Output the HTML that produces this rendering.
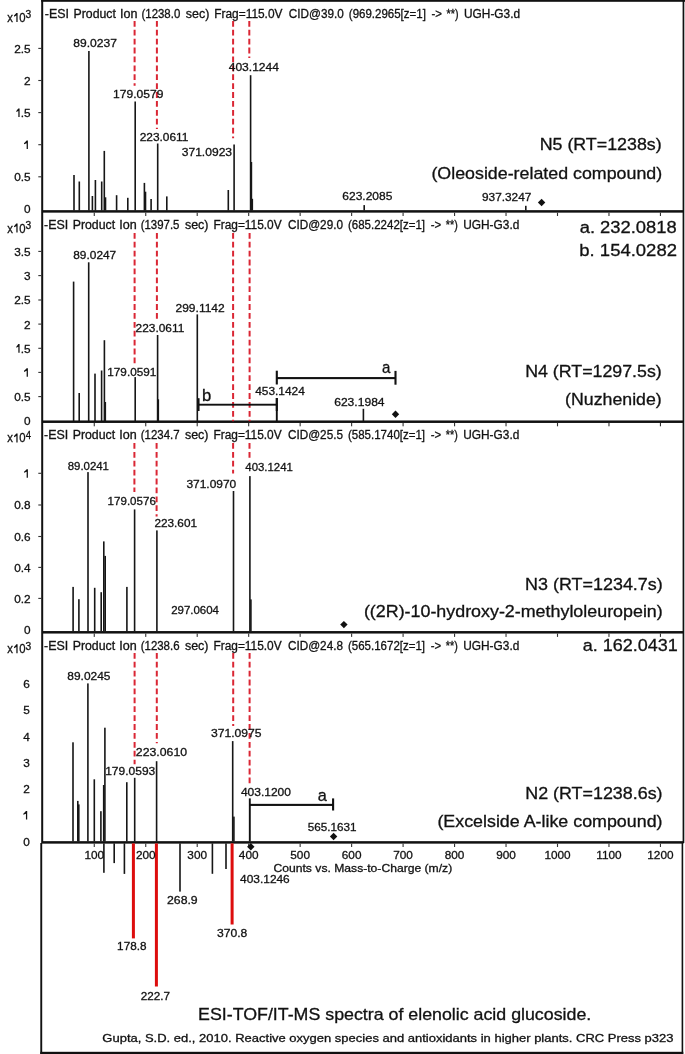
<!DOCTYPE html>
<html><head><meta charset="utf-8"><title>ESI-TOF/IT-MS spectra</title>
<style>
html,body{margin:0;padding:0;background:#fff;}
body{width:685px;height:1054px;overflow:hidden;}
svg{display:block;will-change:transform;}
text{font-family:"Liberation Sans", sans-serif;stroke:#111;stroke-width:0.3px;paint-order:stroke;}
</style></head>
<body>
<svg width="685" height="1054" viewBox="0 0 685 1054">
<rect x="0" y="0" width="685" height="1054" fill="#fff"/>
<rect x="41.20" y="0.00" width="2.00" height="843.00" fill="#111"/>
<rect x="40.30" y="843.00" width="1.90" height="211.00" fill="#111"/>
<rect x="41.20" y="0.00" width="643.80" height="1.80" fill="#111"/>
<rect x="682.60" y="0.00" width="1.70" height="843.00" fill="#111"/>
<rect x="681.60" y="843.00" width="1.60" height="211.00" fill="#111"/>
<rect x="40.30" y="1051.80" width="643.00" height="2.20" fill="#111"/>
<rect x="42.00" y="210.15" width="641.50" height="2.50" fill="#111"/>
<rect x="93.72" y="212.60" width="1.10" height="3.40" fill="#333"/>
<rect x="145.19" y="212.60" width="1.10" height="3.40" fill="#333"/>
<rect x="196.66" y="212.60" width="1.10" height="3.40" fill="#333"/>
<rect x="248.13" y="212.60" width="1.10" height="3.40" fill="#333"/>
<rect x="299.60" y="212.60" width="1.10" height="3.40" fill="#333"/>
<rect x="351.07" y="212.60" width="1.10" height="3.40" fill="#333"/>
<rect x="402.54" y="212.60" width="1.10" height="3.40" fill="#333"/>
<rect x="454.01" y="212.60" width="1.10" height="3.40" fill="#333"/>
<rect x="505.48" y="212.60" width="1.10" height="3.40" fill="#333"/>
<rect x="556.95" y="212.60" width="1.10" height="3.40" fill="#333"/>
<rect x="608.42" y="212.60" width="1.10" height="3.40" fill="#333"/>
<rect x="659.89" y="212.60" width="1.10" height="3.40" fill="#333"/>
<text x="44.84" y="17.70" font-size="12" text-anchor="start" fill="#111" textLength="24.14" lengthAdjust="spacingAndGlyphs">-ESI</text>
<text x="73.51" y="17.70" font-size="12" text-anchor="start" fill="#111" textLength="42.46" lengthAdjust="spacingAndGlyphs">Product</text>
<text x="120.07" y="17.70" font-size="12" text-anchor="start" fill="#111" textLength="17.45" lengthAdjust="spacingAndGlyphs">Ion</text>
<text x="141.51" y="17.70" font-size="12" text-anchor="start" fill="#111" textLength="38.76" lengthAdjust="spacingAndGlyphs">(1238.0</text>
<text x="185.73" y="17.70" font-size="12" text-anchor="start" fill="#111" textLength="23.58" lengthAdjust="spacingAndGlyphs">sec)</text>
<text x="214.25" y="17.70" font-size="12" text-anchor="start" fill="#111" textLength="68.22" lengthAdjust="spacingAndGlyphs">Frag=115.0V</text>
<text x="288.81" y="17.70" font-size="12" text-anchor="start" fill="#111" textLength="54.94" lengthAdjust="spacingAndGlyphs">CID@39.0</text>
<text x="348.81" y="17.70" font-size="12" text-anchor="start" fill="#111" textLength="77.05" lengthAdjust="spacingAndGlyphs">(969.2965[z=1]</text>
<text x="431.49" y="17.70" font-size="12" text-anchor="start" fill="#111" textLength="10.45" lengthAdjust="spacingAndGlyphs">-&gt;</text>
<text x="446.58" y="17.70" font-size="12" text-anchor="start" fill="#111" textLength="11.98" lengthAdjust="spacingAndGlyphs">**)</text>
<text x="464.01" y="17.70" font-size="12" text-anchor="start" fill="#111" textLength="56.10" lengthAdjust="spacingAndGlyphs">UGH-G3.d</text>
<text x="7.13" y="21.90" font-size="12.8" text-anchor="start" fill="#111" textLength="5.68" lengthAdjust="spacingAndGlyphs">x</text>
<path d="M16.35 12.90 L17.60 12.90 L17.60 21.90 L16.35 21.90 L16.35 15.60 L14.00 16.77 L14.00 15.60 L15.45 13.98Z" fill="#111"/>
<text x="19.15" y="21.90" font-size="12.8" text-anchor="start" fill="#111" textLength="6.32" lengthAdjust="spacingAndGlyphs">0</text>
<text x="25.59" y="18.30" font-size="10.2" text-anchor="start" fill="#111" textLength="5.68" lengthAdjust="spacingAndGlyphs">3</text>
<rect x="42.00" y="420.45" width="641.50" height="2.50" fill="#111"/>
<rect x="93.72" y="422.90" width="1.10" height="3.40" fill="#333"/>
<rect x="145.19" y="422.90" width="1.10" height="3.40" fill="#333"/>
<rect x="196.66" y="422.90" width="1.10" height="3.40" fill="#333"/>
<rect x="248.13" y="422.90" width="1.10" height="3.40" fill="#333"/>
<rect x="299.60" y="422.90" width="1.10" height="3.40" fill="#333"/>
<rect x="351.07" y="422.90" width="1.10" height="3.40" fill="#333"/>
<rect x="402.54" y="422.90" width="1.10" height="3.40" fill="#333"/>
<rect x="454.01" y="422.90" width="1.10" height="3.40" fill="#333"/>
<rect x="505.48" y="422.90" width="1.10" height="3.40" fill="#333"/>
<rect x="556.95" y="422.90" width="1.10" height="3.40" fill="#333"/>
<rect x="608.42" y="422.90" width="1.10" height="3.40" fill="#333"/>
<rect x="659.89" y="422.90" width="1.10" height="3.40" fill="#333"/>
<text x="44.04" y="229.20" font-size="12" text-anchor="start" fill="#111" textLength="24.14" lengthAdjust="spacingAndGlyphs">-ESI</text>
<text x="72.71" y="229.20" font-size="12" text-anchor="start" fill="#111" textLength="42.46" lengthAdjust="spacingAndGlyphs">Product</text>
<text x="119.27" y="229.20" font-size="12" text-anchor="start" fill="#111" textLength="17.45" lengthAdjust="spacingAndGlyphs">Ion</text>
<text x="140.71" y="229.20" font-size="12" text-anchor="start" fill="#111" textLength="38.76" lengthAdjust="spacingAndGlyphs">(1397.5</text>
<text x="184.93" y="229.20" font-size="12" text-anchor="start" fill="#111" textLength="23.58" lengthAdjust="spacingAndGlyphs">sec)</text>
<text x="213.45" y="229.20" font-size="12" text-anchor="start" fill="#111" textLength="68.22" lengthAdjust="spacingAndGlyphs">Frag=115.0V</text>
<text x="288.01" y="229.20" font-size="12" text-anchor="start" fill="#111" textLength="54.94" lengthAdjust="spacingAndGlyphs">CID@29.0</text>
<text x="348.01" y="229.20" font-size="12" text-anchor="start" fill="#111" textLength="77.05" lengthAdjust="spacingAndGlyphs">(685.2242[z=1]</text>
<text x="430.69" y="229.20" font-size="12" text-anchor="start" fill="#111" textLength="10.45" lengthAdjust="spacingAndGlyphs">-&gt;</text>
<text x="445.78" y="229.20" font-size="12" text-anchor="start" fill="#111" textLength="11.98" lengthAdjust="spacingAndGlyphs">**)</text>
<text x="463.21" y="229.20" font-size="12" text-anchor="start" fill="#111" textLength="56.10" lengthAdjust="spacingAndGlyphs">UGH-G3.d</text>
<text x="7.13" y="232.50" font-size="12.8" text-anchor="start" fill="#111" textLength="5.68" lengthAdjust="spacingAndGlyphs">x</text>
<path d="M16.35 223.50 L17.60 223.50 L17.60 232.50 L16.35 232.50 L16.35 226.20 L14.00 227.37 L14.00 226.20 L15.45 224.58Z" fill="#111"/>
<text x="19.15" y="232.50" font-size="12.8" text-anchor="start" fill="#111" textLength="6.32" lengthAdjust="spacingAndGlyphs">0</text>
<text x="25.59" y="228.90" font-size="10.2" text-anchor="start" fill="#111" textLength="5.68" lengthAdjust="spacingAndGlyphs">3</text>
<rect x="42.00" y="631.05" width="641.50" height="2.50" fill="#111"/>
<rect x="93.72" y="633.50" width="1.10" height="3.40" fill="#333"/>
<rect x="145.19" y="633.50" width="1.10" height="3.40" fill="#333"/>
<rect x="196.66" y="633.50" width="1.10" height="3.40" fill="#333"/>
<rect x="248.13" y="633.50" width="1.10" height="3.40" fill="#333"/>
<rect x="299.60" y="633.50" width="1.10" height="3.40" fill="#333"/>
<rect x="351.07" y="633.50" width="1.10" height="3.40" fill="#333"/>
<rect x="402.54" y="633.50" width="1.10" height="3.40" fill="#333"/>
<rect x="454.01" y="633.50" width="1.10" height="3.40" fill="#333"/>
<rect x="505.48" y="633.50" width="1.10" height="3.40" fill="#333"/>
<rect x="556.95" y="633.50" width="1.10" height="3.40" fill="#333"/>
<rect x="608.42" y="633.50" width="1.10" height="3.40" fill="#333"/>
<rect x="659.89" y="633.50" width="1.10" height="3.40" fill="#333"/>
<text x="44.04" y="438.70" font-size="12" text-anchor="start" fill="#111" textLength="24.14" lengthAdjust="spacingAndGlyphs">-ESI</text>
<text x="72.71" y="438.70" font-size="12" text-anchor="start" fill="#111" textLength="42.46" lengthAdjust="spacingAndGlyphs">Product</text>
<text x="119.27" y="438.70" font-size="12" text-anchor="start" fill="#111" textLength="17.45" lengthAdjust="spacingAndGlyphs">Ion</text>
<text x="140.71" y="438.70" font-size="12" text-anchor="start" fill="#111" textLength="38.88" lengthAdjust="spacingAndGlyphs">(1234.7</text>
<text x="184.93" y="438.70" font-size="12" text-anchor="start" fill="#111" textLength="23.58" lengthAdjust="spacingAndGlyphs">sec)</text>
<text x="213.45" y="438.70" font-size="12" text-anchor="start" fill="#111" textLength="68.22" lengthAdjust="spacingAndGlyphs">Frag=115.0V</text>
<text x="288.01" y="438.70" font-size="12" text-anchor="start" fill="#111" textLength="54.94" lengthAdjust="spacingAndGlyphs">CID@25.5</text>
<text x="348.01" y="438.70" font-size="12" text-anchor="start" fill="#111" textLength="77.05" lengthAdjust="spacingAndGlyphs">(585.1740[z=1]</text>
<text x="430.69" y="438.70" font-size="12" text-anchor="start" fill="#111" textLength="10.45" lengthAdjust="spacingAndGlyphs">-&gt;</text>
<text x="445.78" y="438.70" font-size="12" text-anchor="start" fill="#111" textLength="11.98" lengthAdjust="spacingAndGlyphs">**)</text>
<text x="463.21" y="438.70" font-size="12" text-anchor="start" fill="#111" textLength="56.10" lengthAdjust="spacingAndGlyphs">UGH-G3.d</text>
<text x="7.13" y="442.40" font-size="12.8" text-anchor="start" fill="#111" textLength="5.68" lengthAdjust="spacingAndGlyphs">x</text>
<path d="M16.35 433.40 L17.60 433.40 L17.60 442.40 L16.35 442.40 L16.35 436.10 L14.00 437.27 L14.00 436.10 L15.45 434.48Z" fill="#111"/>
<text x="19.15" y="442.40" font-size="12.8" text-anchor="start" fill="#111" textLength="6.32" lengthAdjust="spacingAndGlyphs">0</text>
<text x="25.76" y="438.80" font-size="10.2" text-anchor="start" fill="#111" textLength="5.34" lengthAdjust="spacingAndGlyphs">4</text>
<rect x="42.00" y="841.15" width="641.50" height="2.50" fill="#111"/>
<rect x="93.72" y="843.60" width="1.10" height="3.40" fill="#333"/>
<rect x="145.19" y="843.60" width="1.10" height="3.40" fill="#333"/>
<rect x="196.66" y="843.60" width="1.10" height="3.40" fill="#333"/>
<rect x="248.13" y="843.60" width="1.10" height="3.40" fill="#333"/>
<rect x="299.60" y="843.60" width="1.10" height="3.40" fill="#333"/>
<rect x="351.07" y="843.60" width="1.10" height="3.40" fill="#333"/>
<rect x="402.54" y="843.60" width="1.10" height="3.40" fill="#333"/>
<rect x="454.01" y="843.60" width="1.10" height="3.40" fill="#333"/>
<rect x="505.48" y="843.60" width="1.10" height="3.40" fill="#333"/>
<rect x="556.95" y="843.60" width="1.10" height="3.40" fill="#333"/>
<rect x="608.42" y="843.60" width="1.10" height="3.40" fill="#333"/>
<rect x="659.89" y="843.60" width="1.10" height="3.40" fill="#333"/>
<text x="44.04" y="649.80" font-size="12" text-anchor="start" fill="#111" textLength="24.14" lengthAdjust="spacingAndGlyphs">-ESI</text>
<text x="72.71" y="649.80" font-size="12" text-anchor="start" fill="#111" textLength="42.46" lengthAdjust="spacingAndGlyphs">Product</text>
<text x="119.27" y="649.80" font-size="12" text-anchor="start" fill="#111" textLength="17.45" lengthAdjust="spacingAndGlyphs">Ion</text>
<text x="140.71" y="649.80" font-size="12" text-anchor="start" fill="#111" textLength="38.82" lengthAdjust="spacingAndGlyphs">(1238.6</text>
<text x="184.93" y="649.80" font-size="12" text-anchor="start" fill="#111" textLength="23.58" lengthAdjust="spacingAndGlyphs">sec)</text>
<text x="213.45" y="649.80" font-size="12" text-anchor="start" fill="#111" textLength="68.22" lengthAdjust="spacingAndGlyphs">Frag=115.0V</text>
<text x="288.01" y="649.80" font-size="12" text-anchor="start" fill="#111" textLength="54.94" lengthAdjust="spacingAndGlyphs">CID@24.8</text>
<text x="348.01" y="649.80" font-size="12" text-anchor="start" fill="#111" textLength="77.05" lengthAdjust="spacingAndGlyphs">(565.1672[z=1]</text>
<text x="430.69" y="649.80" font-size="12" text-anchor="start" fill="#111" textLength="10.45" lengthAdjust="spacingAndGlyphs">-&gt;</text>
<text x="445.78" y="649.80" font-size="12" text-anchor="start" fill="#111" textLength="11.98" lengthAdjust="spacingAndGlyphs">**)</text>
<text x="463.21" y="649.80" font-size="12" text-anchor="start" fill="#111" textLength="56.10" lengthAdjust="spacingAndGlyphs">UGH-G3.d</text>
<text x="7.13" y="653.30" font-size="12.8" text-anchor="start" fill="#111" textLength="5.68" lengthAdjust="spacingAndGlyphs">x</text>
<path d="M16.35 644.30 L17.60 644.30 L17.60 653.30 L16.35 653.30 L16.35 647.00 L14.00 648.17 L14.00 647.00 L15.45 645.38Z" fill="#111"/>
<text x="19.15" y="653.30" font-size="12.8" text-anchor="start" fill="#111" textLength="6.32" lengthAdjust="spacingAndGlyphs">0</text>
<text x="25.59" y="649.70" font-size="10.2" text-anchor="start" fill="#111" textLength="5.68" lengthAdjust="spacingAndGlyphs">3</text>
<rect x="38.30" y="47.85" width="3.20" height="1.10" fill="#333"/>
<text x="30.60" y="52.80" font-size="11.8" text-anchor="end" fill="#111">2.5</text>
<rect x="38.30" y="79.95" width="3.20" height="1.10" fill="#333"/>
<text x="30.60" y="84.90" font-size="11.8" text-anchor="end" fill="#111">2</text>
<rect x="38.30" y="112.05" width="3.20" height="1.10" fill="#333"/>
<path d="M18.35 108.40 L19.60 108.40 L19.60 117.00 L18.35 117.00 L18.35 110.98 L16.30 112.10 L16.30 110.98 L17.45 109.43Z" fill="#111"/>
<text x="30.60" y="117.00" font-size="11.8" text-anchor="end" fill="#111">.5</text>
<rect x="38.30" y="144.15" width="3.20" height="1.10" fill="#333"/>
<path d="M26.65 140.60 L27.90 140.60 L27.90 149.10 L26.65 149.10 L26.65 143.15 L24.00 144.25 L24.00 143.15 L25.75 141.62Z" fill="#111"/>
<rect x="38.30" y="176.25" width="3.20" height="1.10" fill="#333"/>
<text x="30.60" y="181.20" font-size="11.8" text-anchor="end" fill="#111">0.5</text>
<text x="30.60" y="213.00" font-size="11.8" text-anchor="end" fill="#111">0</text>
<rect x="38.30" y="250.85" width="3.20" height="1.10" fill="#333"/>
<text x="30.60" y="255.80" font-size="11.8" text-anchor="end" fill="#111">3.5</text>
<rect x="38.30" y="275.05" width="3.20" height="1.10" fill="#333"/>
<text x="30.60" y="280.00" font-size="11.8" text-anchor="end" fill="#111">3</text>
<rect x="38.30" y="299.45" width="3.20" height="1.10" fill="#333"/>
<text x="30.60" y="304.40" font-size="11.8" text-anchor="end" fill="#111">2.5</text>
<rect x="38.30" y="323.55" width="3.20" height="1.10" fill="#333"/>
<text x="30.60" y="328.50" font-size="11.8" text-anchor="end" fill="#111">2</text>
<rect x="38.30" y="347.75" width="3.20" height="1.10" fill="#333"/>
<path d="M18.35 344.10 L19.60 344.10 L19.60 352.70 L18.35 352.70 L18.35 346.68 L16.30 347.80 L16.30 346.68 L17.45 345.13Z" fill="#111"/>
<text x="30.60" y="352.70" font-size="11.8" text-anchor="end" fill="#111">.5</text>
<rect x="38.30" y="371.85" width="3.20" height="1.10" fill="#333"/>
<path d="M26.65 368.30 L27.90 368.30 L27.90 376.80 L26.65 376.80 L26.65 370.85 L24.00 371.95 L24.00 370.85 L25.75 369.32Z" fill="#111"/>
<rect x="38.30" y="396.05" width="3.20" height="1.10" fill="#333"/>
<text x="30.60" y="401.00" font-size="11.8" text-anchor="end" fill="#111">0.5</text>
<text x="30.60" y="424.80" font-size="11.8" text-anchor="end" fill="#111">0</text>
<rect x="38.30" y="472.75" width="3.20" height="1.10" fill="#333"/>
<path d="M26.65 469.20 L27.90 469.20 L27.90 477.70 L26.65 477.70 L26.65 471.75 L24.00 472.85 L24.00 471.75 L25.75 470.22Z" fill="#111"/>
<rect x="38.30" y="504.45" width="3.20" height="1.10" fill="#333"/>
<text x="30.60" y="509.40" font-size="11.8" text-anchor="end" fill="#111">0.8</text>
<rect x="38.30" y="535.95" width="3.20" height="1.10" fill="#333"/>
<text x="30.60" y="540.90" font-size="11.8" text-anchor="end" fill="#111">0.6</text>
<rect x="38.30" y="566.85" width="3.20" height="1.10" fill="#333"/>
<text x="30.60" y="571.80" font-size="11.8" text-anchor="end" fill="#111">0.4</text>
<rect x="38.30" y="597.85" width="3.20" height="1.10" fill="#333"/>
<text x="30.60" y="602.80" font-size="11.8" text-anchor="end" fill="#111">0.2</text>
<text x="30.60" y="633.80" font-size="11.8" text-anchor="end" fill="#111">0</text>
<text x="29.90" y="688.20" font-size="11.8" text-anchor="end" fill="#111">6</text>
<text x="29.90" y="714.40" font-size="11.8" text-anchor="end" fill="#111">5</text>
<text x="29.90" y="740.70" font-size="11.8" text-anchor="end" fill="#111">4</text>
<text x="29.90" y="767.00" font-size="11.8" text-anchor="end" fill="#111">3</text>
<text x="29.90" y="793.30" font-size="11.8" text-anchor="end" fill="#111">2</text>
<path d="M25.95 811.10 L27.20 811.10 L27.20 819.60 L25.95 819.60 L25.95 813.65 L23.30 814.75 L23.30 813.65 L25.05 812.12Z" fill="#111"/>
<text x="29.90" y="845.90" font-size="11.8" text-anchor="end" fill="#111">0</text>
<rect x="73.20" y="175.00" width="1.60" height="35.50" fill="#161616"/>
<rect x="78.50" y="181.50" width="1.60" height="29.00" fill="#161616"/>
<rect x="88.10" y="51.00" width="1.60" height="159.50" fill="#161616"/>
<rect x="91.60" y="196.00" width="1.60" height="14.50" fill="#161616"/>
<rect x="94.60" y="180.00" width="1.60" height="30.50" fill="#161616"/>
<rect x="100.90" y="181.50" width="1.60" height="29.00" fill="#161616"/>
<rect x="103.50" y="150.90" width="1.60" height="59.60" fill="#161616"/>
<rect x="104.70" y="197.30" width="1.60" height="13.20" fill="#161616"/>
<rect x="115.80" y="195.20" width="1.60" height="15.30" fill="#161616"/>
<rect x="127.00" y="197.80" width="1.60" height="12.70" fill="#161616"/>
<rect x="134.40" y="101.50" width="1.60" height="109.00" fill="#161616"/>
<rect x="143.60" y="182.90" width="1.60" height="27.60" fill="#161616"/>
<rect x="144.70" y="191.70" width="1.60" height="18.80" fill="#161616"/>
<rect x="150.30" y="199.00" width="1.60" height="11.50" fill="#161616"/>
<rect x="156.90" y="143.50" width="1.60" height="67.00" fill="#161616"/>
<rect x="166.00" y="196.40" width="1.60" height="14.10" fill="#161616"/>
<rect x="227.50" y="190.00" width="1.60" height="20.50" fill="#161616"/>
<rect x="233.30" y="144.50" width="1.60" height="66.00" fill="#161616"/>
<rect x="249.80" y="75.20" width="1.60" height="135.30" fill="#161616"/>
<rect x="250.60" y="162.00" width="1.60" height="48.50" fill="#161616"/>
<rect x="251.50" y="198.80" width="1.60" height="11.70" fill="#161616"/>
<rect x="363.40" y="205.10" width="1.60" height="5.40" fill="#161616"/>
<rect x="525.00" y="205.80" width="1.60" height="4.70" fill="#161616"/>
<line x1="134.60" y1="20.90" x2="134.60" y2="85.70" stroke="#da2634" stroke-width="2" stroke-dasharray="5.8 3.1"/>
<line x1="156.90" y1="20.90" x2="156.90" y2="129.00" stroke="#da2634" stroke-width="2" stroke-dasharray="5.8 3.1"/>
<line x1="233.10" y1="20.90" x2="233.10" y2="138.30" stroke="#da2634" stroke-width="2" stroke-dasharray="5.8 3.1"/>
<line x1="249.30" y1="20.90" x2="249.30" y2="58.10" stroke="#da2634" stroke-width="2" stroke-dasharray="5.8 3.1"/>
<text x="73.26" y="47.00" font-size="11.5" text-anchor="start" fill="#111" textLength="43.65" lengthAdjust="spacingAndGlyphs">89.0237</text>
<text x="113.09" y="98.00" font-size="11.5" text-anchor="start" fill="#111" textLength="50.36" lengthAdjust="spacingAndGlyphs">179.0579</text>
<text x="139.70" y="140.90" font-size="11.5" text-anchor="start" fill="#111" textLength="48.81" lengthAdjust="spacingAndGlyphs">223.0611</text>
<text x="181.72" y="155.60" font-size="11.5" text-anchor="start" fill="#111" textLength="50.34" lengthAdjust="spacingAndGlyphs">371.0923</text>
<text x="228.70" y="71.20" font-size="11.5" text-anchor="start" fill="#111" textLength="50.28" lengthAdjust="spacingAndGlyphs">403.1244</text>
<text x="342.30" y="200.40" font-size="11.5" text-anchor="start" fill="#111" textLength="50.09" lengthAdjust="spacingAndGlyphs">623.2085</text>
<text x="481.97" y="200.80" font-size="11.5" text-anchor="start" fill="#111" textLength="49.34" lengthAdjust="spacingAndGlyphs">937.3247</text>
<text x="539.67" y="150.30" font-size="16.4" text-anchor="start" fill="#111" textLength="122.01" lengthAdjust="spacingAndGlyphs">N5 (RT=1238s)</text>
<text x="431.43" y="179.30" font-size="16.8" text-anchor="start" fill="#111" textLength="230.77" lengthAdjust="spacingAndGlyphs">(Oleoside-related compound)</text>
<path d="M541.60 198.80L545.30 202.50L541.60 206.20L537.90 202.50Z" fill="#111"/>
<rect x="72.80" y="281.60" width="1.60" height="139.60" fill="#161616"/>
<rect x="78.40" y="393.00" width="1.60" height="28.20" fill="#161616"/>
<rect x="87.90" y="262.30" width="1.60" height="158.90" fill="#161616"/>
<rect x="94.20" y="373.60" width="1.60" height="47.60" fill="#161616"/>
<rect x="100.80" y="370.50" width="1.60" height="50.70" fill="#161616"/>
<rect x="103.60" y="340.20" width="1.60" height="81.00" fill="#161616"/>
<rect x="104.50" y="402.00" width="1.60" height="19.20" fill="#161616"/>
<rect x="134.40" y="377.10" width="1.60" height="44.10" fill="#161616"/>
<rect x="156.80" y="335.00" width="1.60" height="86.20" fill="#161616"/>
<rect x="157.50" y="399.30" width="1.60" height="21.90" fill="#161616"/>
<rect x="196.50" y="314.40" width="1.60" height="106.80" fill="#161616"/>
<rect x="362.60" y="408.80" width="1.60" height="12.40" fill="#161616"/>
<rect x="275.85" y="398.00" width="1.90" height="23.20" fill="#111"/>
<line x1="134.60" y1="232.90" x2="134.60" y2="363.50" stroke="#da2634" stroke-width="2" stroke-dasharray="5.8 3.1"/>
<line x1="156.90" y1="232.90" x2="156.90" y2="319.90" stroke="#da2634" stroke-width="2" stroke-dasharray="5.8 3.1"/>
<line x1="233.10" y1="232.90" x2="233.10" y2="421.20" stroke="#da2634" stroke-width="2" stroke-dasharray="5.8 3.1"/>
<line x1="249.60" y1="232.90" x2="249.60" y2="421.20" stroke="#da2634" stroke-width="2" stroke-dasharray="5.8 3.1"/>
<text x="73.27" y="259.30" font-size="11.5" text-anchor="start" fill="#111" textLength="42.93" lengthAdjust="spacingAndGlyphs">89.0247</text>
<text x="175.50" y="311.80" font-size="11.5" text-anchor="start" fill="#111" textLength="49.22" lengthAdjust="spacingAndGlyphs">299.1142</text>
<text x="135.61" y="332.20" font-size="11.5" text-anchor="start" fill="#111" textLength="48.71" lengthAdjust="spacingAndGlyphs">223.0611</text>
<text x="107.32" y="375.90" font-size="11.5" text-anchor="start" fill="#111" textLength="48.98" lengthAdjust="spacingAndGlyphs">179.0591</text>
<text x="255.20" y="394.80" font-size="11.5" text-anchor="start" fill="#111" textLength="49.67" lengthAdjust="spacingAndGlyphs">453.1424</text>
<text x="334.20" y="406.20" font-size="11.5" text-anchor="start" fill="#111" textLength="50.38" lengthAdjust="spacingAndGlyphs">623.1984</text>
<rect x="276.80" y="377.05" width="118.70" height="2.10" fill="#111"/>
<rect x="275.75" y="370.70" width="2.10" height="13.80" fill="#111"/>
<rect x="394.45" y="370.90" width="2.10" height="13.80" fill="#111"/>
<rect x="198.00" y="403.75" width="78.80" height="1.90" fill="#111"/>
<rect x="197.45" y="398.20" width="2.10" height="12.80" fill="#111"/>
<rect x="275.75" y="398.00" width="2.10" height="13.00" fill="#111"/>
<text x="381.92" y="373.10" font-size="16.3" text-anchor="start" fill="#111" textLength="8.40" lengthAdjust="spacingAndGlyphs">a</text>
<text x="202.12" y="401.00" font-size="16.8" text-anchor="start" fill="#111" textLength="9.27" lengthAdjust="spacingAndGlyphs">b</text>
<text x="579.67" y="233.00" font-size="17.3" text-anchor="start" fill="#111" textLength="97.11" lengthAdjust="spacingAndGlyphs">a. 232.0818</text>
<text x="579.30" y="256.00" font-size="17.3" text-anchor="start" fill="#111" textLength="97.68" lengthAdjust="spacingAndGlyphs">b. 154.0282</text>
<text x="525.18" y="377.10" font-size="16.6" text-anchor="start" fill="#111" textLength="136.58" lengthAdjust="spacingAndGlyphs">N4 (RT=1297.5s)</text>
<text x="565.14" y="405.10" font-size="16.6" text-anchor="start" fill="#111" textLength="96.57" lengthAdjust="spacingAndGlyphs">(Nuzhenide)</text>
<path d="M395.50 410.50L399.20 414.20L395.50 417.90L391.80 414.20Z" fill="#111"/>
<rect x="72.30" y="586.90" width="1.60" height="44.40" fill="#161616"/>
<rect x="78.10" y="599.20" width="1.60" height="32.10" fill="#161616"/>
<rect x="87.20" y="472.10" width="1.60" height="159.20" fill="#161616"/>
<rect x="93.90" y="587.80" width="1.60" height="43.50" fill="#161616"/>
<rect x="100.40" y="592.20" width="1.60" height="39.10" fill="#161616"/>
<rect x="103.00" y="541.40" width="1.60" height="89.90" fill="#161616"/>
<rect x="104.40" y="555.90" width="1.60" height="75.40" fill="#161616"/>
<rect x="126.10" y="586.90" width="1.60" height="44.40" fill="#161616"/>
<rect x="133.80" y="509.40" width="1.60" height="121.90" fill="#161616"/>
<rect x="156.10" y="530.40" width="1.60" height="100.90" fill="#161616"/>
<rect x="232.70" y="491.00" width="1.60" height="140.30" fill="#161616"/>
<rect x="249.10" y="476.10" width="1.60" height="155.20" fill="#161616"/>
<rect x="250.10" y="599.40" width="1.60" height="31.90" fill="#161616"/>
<line x1="134.40" y1="443.00" x2="134.40" y2="491.90" stroke="#da2634" stroke-width="2" stroke-dasharray="5.8 3.1"/>
<line x1="156.60" y1="443.00" x2="156.60" y2="516.50" stroke="#da2634" stroke-width="2" stroke-dasharray="5.8 3.1"/>
<line x1="233.10" y1="443.00" x2="233.10" y2="473.50" stroke="#da2634" stroke-width="2" stroke-dasharray="5.8 3.1"/>
<line x1="249.50" y1="443.00" x2="249.50" y2="460.30" stroke="#da2634" stroke-width="2" stroke-dasharray="5.8 3.1"/>
<text x="67.69" y="469.90" font-size="11.5" text-anchor="start" fill="#111" textLength="41.28" lengthAdjust="spacingAndGlyphs">89.0241</text>
<text x="107.63" y="505.40" font-size="11.5" text-anchor="start" fill="#111" textLength="48.20" lengthAdjust="spacingAndGlyphs">179.0576</text>
<text x="154.41" y="526.50" font-size="11.5" text-anchor="start" fill="#111" textLength="42.58" lengthAdjust="spacingAndGlyphs">223.601</text>
<text x="186.42" y="488.10" font-size="11.5" text-anchor="start" fill="#111" textLength="49.87" lengthAdjust="spacingAndGlyphs">371.0970</text>
<text x="245.31" y="471.20" font-size="11.5" text-anchor="start" fill="#111" textLength="47.57" lengthAdjust="spacingAndGlyphs">403.1241</text>
<text x="171.13" y="614.30" font-size="11.5" text-anchor="start" fill="#111" textLength="47.83" lengthAdjust="spacingAndGlyphs">297.0604</text>
<text x="525.07" y="589.70" font-size="16.6" text-anchor="start" fill="#111" textLength="137.70" lengthAdjust="spacingAndGlyphs">N3 (RT=1234.7s)</text>
<text x="363.93" y="617.20" font-size="16.5" text-anchor="start" fill="#111" textLength="298.81" lengthAdjust="spacingAndGlyphs">((2R)-10-hydroxy-2-methyloleuropein)</text>
<path d="M343.90 620.90L347.60 624.60L343.90 628.30L340.20 624.60Z" fill="#111"/>
<rect x="72.20" y="742.30" width="1.60" height="99.10" fill="#161616"/>
<rect x="77.00" y="800.90" width="1.60" height="40.50" fill="#161616"/>
<rect x="78.00" y="804.40" width="1.60" height="37.00" fill="#161616"/>
<rect x="87.10" y="683.40" width="1.60" height="158.00" fill="#161616"/>
<rect x="93.50" y="779.30" width="1.60" height="62.10" fill="#161616"/>
<rect x="100.10" y="811.20" width="1.60" height="30.20" fill="#161616"/>
<rect x="102.90" y="785.00" width="1.60" height="56.40" fill="#161616"/>
<rect x="104.10" y="727.70" width="1.60" height="113.70" fill="#161616"/>
<rect x="126.00" y="782.20" width="1.60" height="59.20" fill="#161616"/>
<rect x="133.90" y="777.80" width="1.60" height="63.60" fill="#161616"/>
<rect x="155.80" y="761.20" width="1.60" height="80.20" fill="#161616"/>
<rect x="231.90" y="741.10" width="1.60" height="100.30" fill="#161616"/>
<rect x="233.10" y="816.60" width="1.60" height="24.80" fill="#161616"/>
<rect x="248.85" y="798.40" width="1.90" height="43.00" fill="#111"/>
<line x1="134.60" y1="652.90" x2="134.60" y2="764.20" stroke="#da2634" stroke-width="2" stroke-dasharray="5.8 3.1"/>
<line x1="156.80" y1="652.90" x2="156.80" y2="743.20" stroke="#da2634" stroke-width="2" stroke-dasharray="5.8 3.1"/>
<line x1="233.20" y1="652.90" x2="233.20" y2="725.90" stroke="#da2634" stroke-width="2" stroke-dasharray="5.8 3.1"/>
<line x1="249.60" y1="652.90" x2="249.60" y2="783.20" stroke="#da2634" stroke-width="2" stroke-dasharray="5.8 3.1"/>
<rect x="103.10" y="843.40" width="1.60" height="29.40" fill="#161616"/>
<rect x="113.40" y="843.40" width="1.60" height="19.70" fill="#161616"/>
<rect x="123.60" y="843.40" width="1.60" height="30.50" fill="#161616"/>
<rect x="179.20" y="843.40" width="1.60" height="48.20" fill="#161616"/>
<rect x="211.60" y="843.40" width="1.60" height="30.40" fill="#161616"/>
<rect x="225.20" y="843.40" width="1.60" height="25.60" fill="#161616"/>
<rect x="131.90" y="843.40" width="3.00" height="95.00" fill="#dd0d0d"/>
<rect x="154.90" y="843.40" width="3.00" height="143.10" fill="#dd0d0d"/>
<rect x="230.60" y="843.40" width="3.00" height="81.10" fill="#dd0d0d"/>
<text x="67.36" y="679.90" font-size="11.5" text-anchor="start" fill="#111" textLength="43.11" lengthAdjust="spacingAndGlyphs">89.0245</text>
<text x="135.89" y="756.30" font-size="11.5" text-anchor="start" fill="#111" textLength="51.22" lengthAdjust="spacingAndGlyphs">223.0610</text>
<text x="105.20" y="775.20" font-size="11.5" text-anchor="start" fill="#111" textLength="50.05" lengthAdjust="spacingAndGlyphs">179.0593</text>
<text x="211.01" y="737.10" font-size="11.5" text-anchor="start" fill="#111" textLength="50.58" lengthAdjust="spacingAndGlyphs">371.0975</text>
<text x="240.90" y="795.60" font-size="11.5" text-anchor="start" fill="#111" textLength="50.09" lengthAdjust="spacingAndGlyphs">403.1200</text>
<text x="307.73" y="831.10" font-size="11.5" text-anchor="start" fill="#111" textLength="48.76" lengthAdjust="spacingAndGlyphs">565.1631</text>
<rect x="249.80" y="803.85" width="83.30" height="2.10" fill="#111"/>
<rect x="332.05" y="798.40" width="2.10" height="12.10" fill="#111"/>
<text x="317.87" y="801.10" font-size="16.3" text-anchor="start" fill="#111" textLength="9.05" lengthAdjust="spacingAndGlyphs">a</text>
<text x="582.69" y="651.40" font-size="17.2" text-anchor="start" fill="#111" textLength="95.06" lengthAdjust="spacingAndGlyphs">a. 162.0431</text>
<text x="525.27" y="798.60" font-size="16.4" text-anchor="start" fill="#111" textLength="137.29" lengthAdjust="spacingAndGlyphs">N2 (RT=1238.6s)</text>
<text x="437.43" y="826.60" font-size="16.5" text-anchor="start" fill="#111" textLength="225.08" lengthAdjust="spacingAndGlyphs">(Excelside A-like compound)</text>
<path d="M333.60 832.80L337.30 836.50L333.60 840.20L329.90 836.50Z" fill="#111"/>
<path d="M250.80 843.10L254.50 846.80L250.80 850.50L247.10 846.80Z" fill="#111"/>
<text x="94.27" y="858.80" font-size="11.8" text-anchor="middle" fill="#111">100</text>
<text x="145.74" y="858.80" font-size="11.8" text-anchor="middle" fill="#111">200</text>
<text x="197.21" y="858.80" font-size="11.8" text-anchor="middle" fill="#111">300</text>
<text x="248.68" y="858.80" font-size="11.8" text-anchor="middle" fill="#111">400</text>
<text x="300.15" y="858.80" font-size="11.8" text-anchor="middle" fill="#111">500</text>
<text x="351.62" y="858.80" font-size="11.8" text-anchor="middle" fill="#111">600</text>
<text x="403.09" y="858.80" font-size="11.8" text-anchor="middle" fill="#111">700</text>
<text x="454.56" y="858.80" font-size="11.8" text-anchor="middle" fill="#111">800</text>
<text x="506.03" y="858.80" font-size="11.8" text-anchor="middle" fill="#111">900</text>
<text x="557.50" y="858.80" font-size="11.8" text-anchor="middle" fill="#111">1000</text>
<text x="608.97" y="858.80" font-size="11.8" text-anchor="middle" fill="#111">1100</text>
<text x="660.44" y="858.80" font-size="11.8" text-anchor="middle" fill="#111">1200</text>
<text x="273.49" y="871.60" font-size="11.5" text-anchor="start" fill="#111" textLength="178.75" lengthAdjust="spacingAndGlyphs">Counts vs. Mass-to-Charge (m/z)</text>
<text x="240.10" y="882.80" font-size="11.5" text-anchor="start" fill="#111" textLength="49.65" lengthAdjust="spacingAndGlyphs">403.1246</text>
<text x="117.12" y="949.70" font-size="11.5" text-anchor="start" fill="#111" textLength="29.38" lengthAdjust="spacingAndGlyphs">178.8</text>
<text x="140.81" y="999.60" font-size="11.5" text-anchor="start" fill="#111" textLength="29.30" lengthAdjust="spacingAndGlyphs">222.7</text>
<text x="166.99" y="904.10" font-size="11.5" text-anchor="start" fill="#111" textLength="30.70" lengthAdjust="spacingAndGlyphs">268.9</text>
<text x="217.02" y="936.60" font-size="11.5" text-anchor="start" fill="#111" textLength="30.30" lengthAdjust="spacingAndGlyphs">370.8</text>
<text x="198.08" y="1020.30" font-size="16.7" text-anchor="start" fill="#111" textLength="393.16" lengthAdjust="spacingAndGlyphs">ESI-TOF/IT-MS spectra of elenolic acid glucoside.</text>
<text x="102.35" y="1041.50" font-size="11.2" text-anchor="start" fill="#111" textLength="571.14" lengthAdjust="spacingAndGlyphs">Gupta, S.D. ed., 2010. Reactive oxygen species and antioxidants in higher plants. CRC Press p323</text>
</svg>
</body></html>
